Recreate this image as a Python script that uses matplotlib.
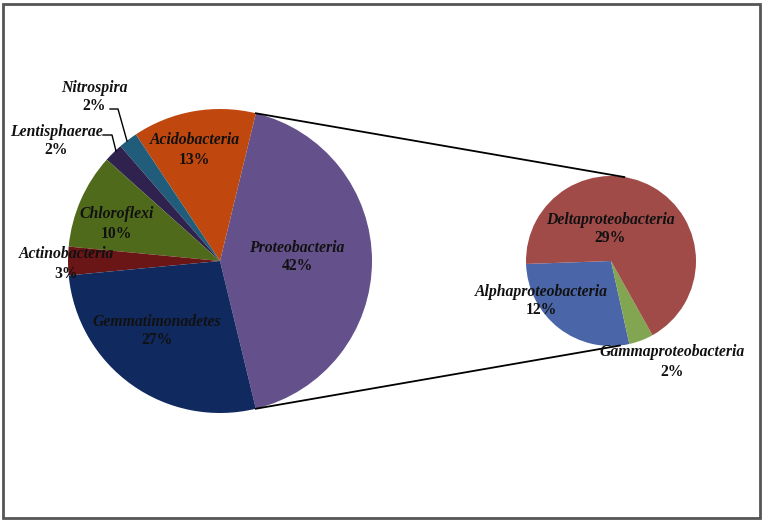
import numpy as np
import matplotlib
matplotlib.use("Agg")
import matplotlib.pyplot as plt
from matplotlib.patches import Rectangle

# ---- data ----
main_labels = ["Proteobacteria", "Acidobacteria", "Nitrospira", "Lentisphaerae",
               "Chloroflexi", "Actinobacteria", "Gemmatimonadetes"]
main_values = [42, 13, 2, 2, 10, 3, 27]
main_colors = ["#64508A", "#C0470E", "#215C7A", "#30224F", "#4F6A1B", "#6B1616", "#10295F"]

sub_labels = ["Alphaproteobacteria", "Gammaproteobacteria", "Deltaproteobacteria"]
sub_values = [12, 2, 29]
sub_colors = ["#4A66A8", "#82A552", "#A14B49"]

W, H = 764, 522
fig = plt.figure(figsize=(W / 100, H / 100), dpi=100)
ax = fig.add_axes([0, 0, 1, 1])

def py(y):  # pixel-from-top to data y
    return H - y

# main pie
c1 = (220, py(261)); r1 = 152
tot1 = sum(main_values)
prot_angle = main_values[0] / tot1 * 360
start1 = -prot_angle / 2
ax.pie(main_values, colors=main_colors, startangle=start1, counterclock=True,
       center=c1, radius=r1, wedgeprops=dict(linewidth=0), frame=True)

# sub pie
c2 = (611, py(261)); r2 = 85
ax.pie(sub_values, colors=sub_colors, startangle=182, counterclock=True,
       center=c2, radius=r2, wedgeprops=dict(linewidth=0), frame=True)
ax.set_xlim(0, W)
ax.set_ylim(0, H)
ax.set_aspect("equal")
ax.axis("off")

# connector lines
a_top = np.deg2rad(prot_angle / 2)
p1 = (c1[0] + r1 * np.cos(a_top), c1[1] + r1 * np.sin(a_top))
p2 = (c1[0] + r1 * np.cos(-a_top), c1[1] + r1 * np.sin(-a_top))
q1 = (c2[0] + r2 * np.cos(np.deg2rad(81)), c2[1] + r2 * np.sin(np.deg2rad(81)))
q2 = (c2[0] + r2 * np.cos(np.deg2rad(-84)), c2[1] + r2 * np.sin(np.deg2rad(-84)))
ax.plot([p1[0], q1[0]], [p1[1], q1[1]], color="black", lw=1.3, zorder=1)
ax.plot([p2[0], q2[0]], [p2[1], q2[1]], color="black", lw=1.3, zorder=1)

# labels
base = dict(family=["Liberation Serif", "DejaVu Serif"], weight="bold",
            size=11.3, color="#111111", ha="center", va="center")
label_pos = {
    "Proteobacteria": (297, 257),
    "Acidobacteria": (195, 150),
    "Nitrospira": (94, 97),
    "Lentisphaerae": (56, 141),
    "Chloroflexi": (117, 224),
    "Actinobacteria": (66, 264),
    "Gemmatimonadetes": (157, 331),
    "Deltaproteobacteria": (610, 229),
    "Alphaproteobacteria": (541, 301),
    "Gammaproteobacteria": (672, 362),
}
for name, v in zip(main_labels + sub_labels, main_values + sub_values):
    x, y = label_pos[name]
    ax.text(x, py(y - 9.5), name, style="italic", zorder=5, **base)
    ax.text(x, py(y + 9.5), f"{v}%", style="normal", zorder=5, **base)

# leader lines
ax.plot([110, 118, 127], [py(109), py(109), py(141)], color="black", lw=1, zorder=4)
ax.plot([103, 112, 116], [py(135), py(135), py(151)], color="black", lw=1, zorder=4)

# border
ax.add_patch(Rectangle((3, py(518)), 757, 514, fill=False, edgecolor="#555555", lw=2, zorder=6))

fig.savefig("out.png", dpi=100)
